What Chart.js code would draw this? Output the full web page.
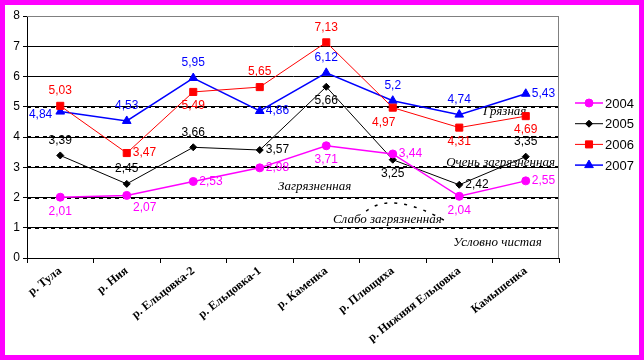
<!DOCTYPE html>
<html>
<head>
<meta charset="utf-8">
<script src="https://cdn.jsdelivr.net/npm/chart.js@4"></script>
<style>
body { margin: 0; background: #fff; }
#frame { width: 644px; height: 360px; box-sizing: border-box; border: 5px solid #ff00ff; background: #fff; }
canvas { display: block; }
</style>
</head>
<body>
<div id="frame"><canvas id="chart" width="634" height="350"></canvas></div>
<script>
const rivers = ['р. Тула', 'р. Ния', 'р. Ельцовка-2', 'р. Ельцовка-1', 'р. Каменка', 'р. Плющиха', 'р. Нижняя Ельцовка', 'Камышенка'];
const years = ['2004', '2005', '2006', '2007'];
const v2004 = [2.01, 2.07, 2.53, 2.98, 3.71, 3.44, 2.04, 2.55];
const v2005 = [3.39, 2.45, 3.66, 3.57, 5.66, 3.25, 2.42, 3.35];
const v2006 = [5.03, 3.47, 5.49, 5.65, 7.13, 4.97, 4.31, 4.69];
const v2007 = [4.84, 4.53, 5.95, 4.86, 6.12, 5.2, 4.74, 5.43];
const yTicks = [0, 1, 2, 3, 4, 5, 6, 7, 8];

// water quality classes (text + y value where text sits)
const zoneNames = ['Грязная', 'Очень загрязненная', 'Загрязненная', 'Слабо загрязненная', 'Условно чистая'];
const zoneTextY = [4.83, 3.17, 2.35, 1.26, 0.5];
const zoneBounds = [1, 2, 3, 4, 5];

// where the value label sits relative to the point: a=above, b=below, r=right, l=left
const labelPos2004 = ['b', 'br', 'r', 'r', 'b', 'r', 'b', 'r'];
const labelPos2005 = ['a', 'a', 'a', 'r', 'b', 'b', 'r', 'a'];
const labelPos2006 = ['a', 'r', 'b', 'a', 'a', 'bl', 'b', 'b'];
const labelPos2007 = ['l', 'a', 'a', 'r', 'a', 'a', 'a', 'r'];
const zoneTextX = [0.857, 0.788, 0.472, 0.575, 0.801];

const colors = ['#ff00ff', '#000000', '#ff0000', '#0000ff'];

function fmt(v) {
    return String(v).replace('.', ',');
}

const decor = {
    id: 'decor',
    beforeDatasetsDraw(chart) {
        const { ctx, chartArea, scales } = chart;
        ctx.save();
        // dashed class boundaries
        ctx.strokeStyle = '#000';
        ctx.lineWidth = 2;
        ctx.setLineDash([4, 4]);
        zoneBounds.forEach(v => {
            const y = Math.round(scales.y.getPixelForValue(v));
            ctx.beginPath();
            ctx.moveTo(chartArea.left, y);
            ctx.lineTo(chartArea.right, y);
            ctx.stroke();
        });
        // little dashed arc near "Слабо загрязненная"
        ctx.lineWidth = 1.5;
        ctx.setLineDash([3, 7]);
        ctx.beginPath();
        ctx.moveTo(scales.x.getPixelForValue(4.6), scales.y.getPixelForValue(1.55));
        ctx.quadraticCurveTo(scales.x.getPixelForValue(5.0), scales.y.getPixelForValue(2.25),
            scales.x.getPixelForValue(5.85), scales.y.getPixelForValue(1.15));
        ctx.stroke();
        ctx.setLineDash([]);
        // grey plot border top/right
        ctx.strokeStyle = '#808080';
        ctx.lineWidth = 1;
        ctx.beginPath();
        ctx.moveTo(chartArea.left, chartArea.top + 0.5);
        ctx.lineTo(chartArea.right - 0.5, chartArea.top + 0.5);
        ctx.lineTo(chartArea.right - 0.5, chartArea.bottom);
        ctx.stroke();
        // class names
        ctx.fillStyle = '#000';
        ctx.font = 'italic 13px "Liberation Serif"';
        ctx.textBaseline = 'middle';
        ctx.textAlign = 'left';
        zoneNames.forEach((name, i) => {
            const x = chartArea.left + zoneTextX[i] * (chartArea.right - chartArea.left);
            ctx.fillText(name, x, scales.y.getPixelForValue(zoneTextY[i]));
        });
        ctx.restore();
    },
    afterDatasetsDraw(chart) {
        const { ctx } = chart;
        const positions = [labelPos2004, labelPos2005, labelPos2006, labelPos2007];
        ctx.save();
        ctx.font = '12px "Liberation Sans"';
        ctx.textBaseline = 'middle';
        chart.data.datasets.forEach((ds, di) => {
            const meta = chart.getDatasetMeta(di);
            ctx.fillStyle = colors[di];
            meta.data.forEach((pt, i) => {
                const p = positions[di][i];
                let x = pt.x, y = pt.y;
                ctx.textAlign = 'center';
                if (p === 'a') { y -= 15; }
                else if (p === 'b') { y += 14; }
                else if (p === 'br') { y += 12; x += 18; }
                else if (p === 'bl') { y += 15; x -= 9; }
                else if (p === 'r') { x += 6; ctx.textAlign = 'left'; }
                else if (p === 'l') { x -= 8; ctx.textAlign = 'right'; y += 3; }
                ctx.fillText(fmt(ds.data[i]), x, y);
            });
        });
        // legend
        const lx = 570, ly = 98;
        ctx.font = '13px "Liberation Sans"';
        ctx.textAlign = 'left';
        chart.data.datasets.forEach((ds, di) => {
            const y = ly + di * 20.7;
            ctx.strokeStyle = ds.borderColor;
            ctx.lineWidth = ds.borderWidth;
            ctx.beginPath();
            ctx.moveTo(lx, y);
            ctx.lineTo(lx + 28, y);
            ctx.stroke();
            ctx.fillStyle = ds.pointBackgroundColor;
            ctx.strokeStyle = ds.pointBorderColor;
            ctx.lineWidth = 1;
            Chart.helpers.drawPoint(ctx, {
                pointStyle: ds.pointStyle,
                radius: ds.pointRadius,
                borderWidth: 1,
                rotation: 0
            }, lx + 14, y);
            ctx.fillStyle = '#000';
            ctx.fillText(ds.label, lx + 30, y + 1);
        });
        ctx.restore();
    }
};

const seriesValues = [v2004, v2005, v2006, v2007];
const pointStyles = ['circle', 'rectRot', 'rect', 'triangle'];
const pointSizes = [4, 3.5, 5, 5];
const lineWidths = [1.5, 1, 1, 1.5];

const chart = new Chart(document.getElementById('chart').getContext('2d'), {
    type: 'line',
    data: {
        labels: rivers,
        datasets: years.map((yr, i) => ({
            label: yr,
            data: seriesValues[i],
            borderColor: colors[i],
            backgroundColor: colors[i],
            pointBackgroundColor: colors[i],
            pointBorderColor: colors[i],
            borderWidth: lineWidths[i],
            pointStyle: pointStyles[i],
            pointRadius: pointSizes[i],
            pointBorderWidth: 1,
            tension: 0,
            fill: false
        }))
    },
    options: {
        responsive: false,
        animation: false,
        devicePixelRatio: 1,
        layout: { padding: { top: 11, right: 80, left: 0, bottom: 0 } },
        plugins: {
            legend: { display: false },
            tooltip: { enabled: false }
        },
        scales: {
            x: {
                offset: true,
                afterFit: s => { s.height = 97; },
                grid: {
                    offset: true,
                    drawOnChartArea: false,
                    drawTicks: true,
                    tickLength: 5,
                    color: '#000'
                },
                border: { color: '#000', width: 1 },
                ticks: {
                    color: '#000',
                    font: { family: '"Liberation Serif"', size: 12, weight: 'bold' },
                    minRotation: 38,
                    maxRotation: 38,
                    autoSkip: false,
                    padding: 1
                }
            },
            y: {
                min: yTicks[0],
                max: yTicks[yTicks.length - 1],
                afterFit: s => { s.width = 22; },
                afterBuildTicks: s => { s.ticks = yTicks.map(v => ({ value: v })); },
                grid: {
                    color: c => (c.tick && c.tick.value === 8 ? '#808080' : '#000'),
                    tickColor: '#000',
                    drawTicks: true,
                    tickLength: 4
                },
                border: { color: '#000', width: 1 },
                ticks: {
                    color: '#000',
                    font: { family: '"Liberation Sans"', size: 12 },
                    padding: 3
                }
            }
        }
    },
    plugins: [decor]
});
</script>
</body>
</html>
